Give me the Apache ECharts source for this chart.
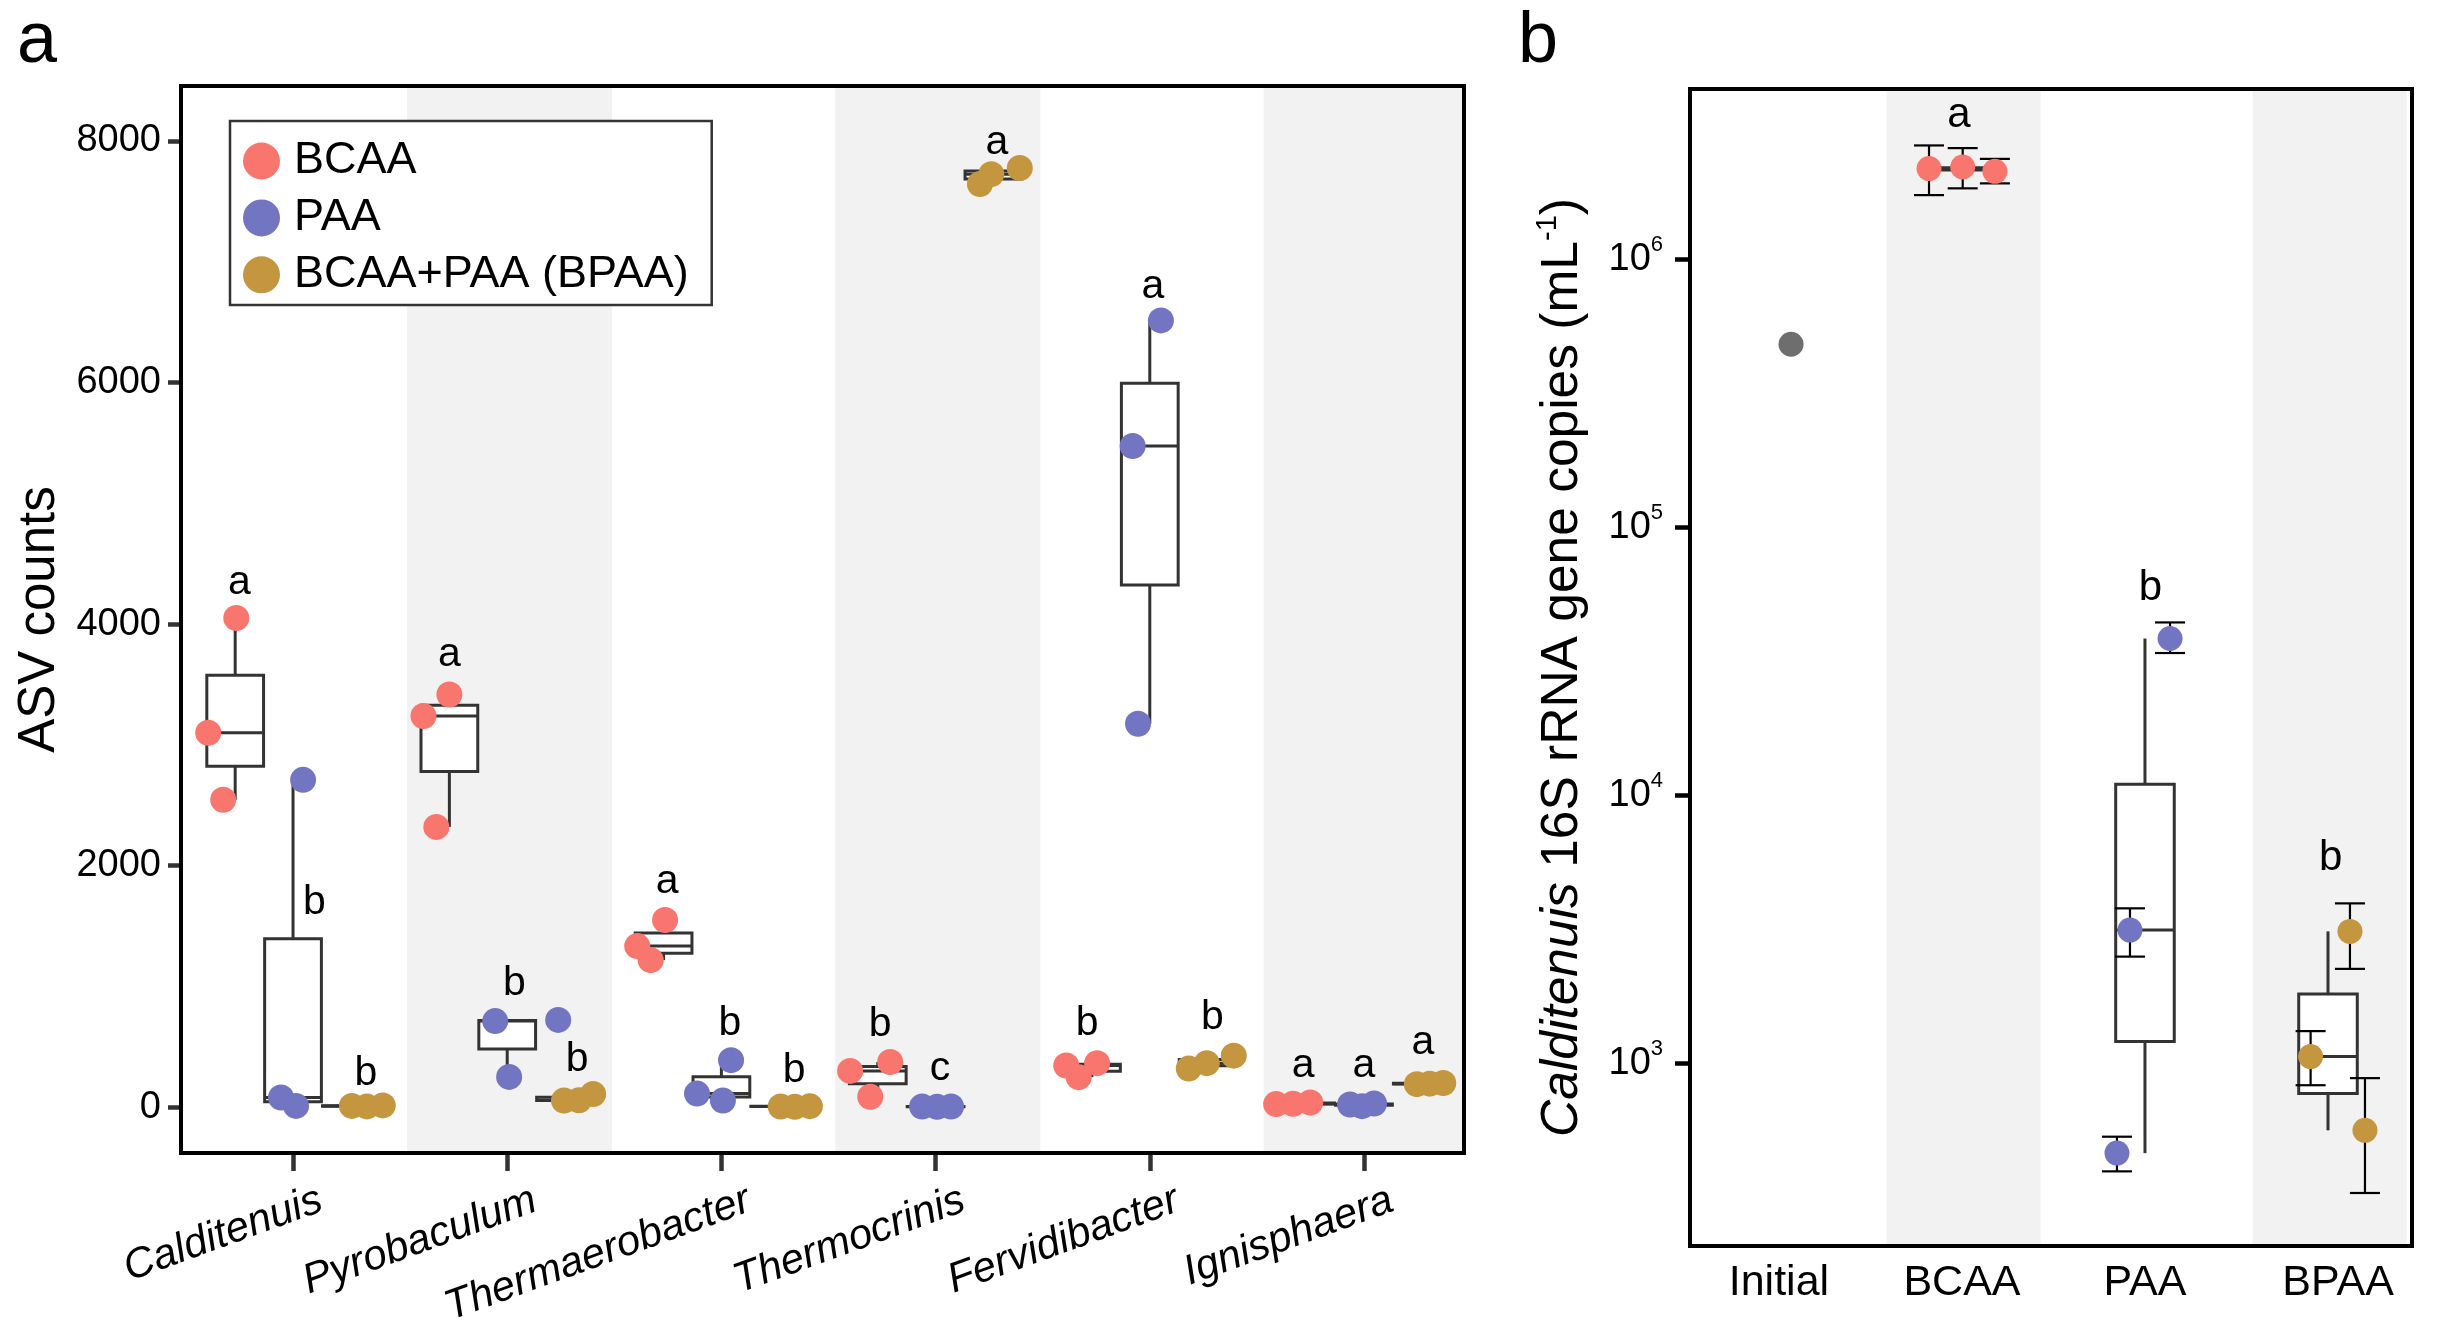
<!DOCTYPE html>
<html><head><meta charset="utf-8">
<script src="https://cdn.jsdelivr.net/npm/echarts@6/dist/echarts.min.js"></script>
<style>html,body{margin:0;padding:0;background:#fff}#c{width:2447px;height:1330px}</style>
</head><body><div id="c"></div>
<script>
// ---------------- Panel a data ----------------
const genera = ['Calditenuis','Pyrobaculum','Thermaerobacter','Thermocrinis','Fervidibacter','Ignisphaera'];
const treatments = ['BCAA','PAA','BCAA+PAA (BPAA)'];
// ASV counts (three replicates per genus)
const bcaaCounts = [[4050,3100,2545],[3416,3238,2320],[1549,1333,1217],[300,373,86],[344,364,248],[25,28,38]];
const paaCounts  = [[2710,80,10],[712,722,250],[389,112,54],[4,2,5],[6514,5474,3174],[22,8,30]];
const bpaaCounts = [[10,6,14],[54,56,108],[5,3,8],[7643,7725,7776],[320,364,426],[190,194,200]];
// horizontal jitter of each replicate (in genus-slot units)
const bcaaJitter = [[0.005,-0.126,-0.056],[0,-0.121,-0.061],[0.007,-0.123,-0.06],[-0.129,0.058,-0.035],[-0.12,0.024,-0.062],[-0.14,-0.061,0.019]];
const paaJitter  = [[0.047,-0.056,0.014],[-0.056,0.238,0.009],[0.045,-0.114,0.007],[-0.063,0.007,0.072],[0.052,-0.08,-0.055],[-0.065,-0.009,0.047]];
const bpaaJitter = [[0.005,0.075,0.149],[-0.005,0.065,0.131],[0.007,0.073,0.143],[-0.063,-0.01,0.123],[-0.088,-0.004,0.122],[-0.023,0.037,0.1]];
// significance letters [genus][treatment]
const lettersA = [['a','b','b'],['a','b','b'],['a','b','b'],['b','c','a'],['b','a','b'],['a','a','a']];
const letterYA = [[4340,1690,280],[3743,1019,390],[1863,687,300],[679,320,7983],[687,6790,739],[340,340,534]];
const letterDxA = [[0.02,0.1,0.07],[0,0.033,0.056],[0.017,0.04,0.07],[0.011,0.02,0.016],[-0.022,0.015,0.022],[-0.014,0,0.005]];
const yTicksA = [0,2000,4000,6000,8000];
const shadedGenera = [2,4,6];

// ---------------- Panel b data ----------------
const conditions = ['Initial','BCAA','PAA','BPAA'];
const initialCopies = [4.82e5];
const initialJitter = [0.066];
const bcaaCopies = [2.18e6,2.21e6,2.13e6];
const bcaaLow    = [1.736e6,1.84e6,1.92e6];
const bcaaHigh   = [2.66e6,2.6e6,2.37e6];
const bcaaJitterB = [-0.18,0.004,0.18];
const paaCopies = [38450,3140,462];
const paaLow    = [33950,2500,395];
const paaHigh   = [44150,3785,532];
const paaJitterB = [0.137,-0.082,-0.153];
const bpaaCopies = [3105,1059,562];
const bpaaLow    = [2250,828,328];
const bpaaHigh   = [3950,1318,880];
const bpaaJitterB = [0.12,-0.095,0.202];
const lettersB = ['', 'a', 'b', 'b'];
const letterYB = [null, 3.43e6, 59300, 5800];
const letterDxB = [0, -0.016, 0.03, 0.014];
const yTicksB = [1e3, 1e4, 1e5, 1e6];
const shadedConditions = [2,4];

// ---------------- helpers ----------------
const FONT = 'Liberation Sans, Arial, Helvetica, sans-serif';
const colA = ['#F8766D','#7275C1','#C4963F'];
const colB = ['#6E6E6E','#F8766D','#7275C1','#C4963F'];
const dodge = [-0.27, 0, 0.27];
const xMinA = 0.477, xMaxA = 6.467, xMinB = 0.514, xMaxB = 4.459;

function q7(s, p){ const h=(s.length-1)*p, l=Math.floor(h), u=Math.min(l+1,s.length-1); return s[l]+(h-l)*(s[u]-s[l]); }
function boxStats(vals){
  const s=[...vals].sort((a,b)=>a-b);
  const q1=q7(s,.25), med=q7(s,.5), q3=q7(s,.75), iqr=q3-q1;
  const lo=s.find(v=>v>=q1-1.5*iqr), hi=[...s].reverse().find(v=>v<=q3+1.5*iqr);
  return [lo,q1,med,q3,hi];
}
function boxStatsLog(vals){ return boxStats(vals.map(Math.log10)).map(v=>Math.pow(10,v)); }

function boxRender(width, lw, color){
  return function(params, api){
    const x=api.value(0);
    const pLo=api.coord([x,api.value(1)]), pQ1=api.coord([x,api.value(2)]), pMed=api.coord([x,api.value(3)]),
          pQ3=api.coord([x,api.value(4)]), pHi=api.coord([x,api.value(5)]);
    const half=api.size([width,0])[0]/2;
    const st={stroke:color,lineWidth:lw,fill:null};
    return {type:'group',children:[
      {type:'line',shape:{x1:pLo[0],y1:pLo[1],x2:pQ1[0],y2:pQ1[1]},style:st},
      {type:'line',shape:{x1:pQ3[0],y1:pQ3[1],x2:pHi[0],y2:pHi[1]},style:st},
      {type:'rect',shape:{x:pQ1[0]-half,y:pQ3[1],width:half*2,height:pQ1[1]-pQ3[1]},style:{stroke:color,lineWidth:lw,fill:'#fff'}},
      {type:'line',shape:{x1:pMed[0]-half,y1:pMed[1],x2:pMed[0]+half,y2:pMed[1]},style:st}
    ]};
  };
}
function errRender(capWidth){
  return function(params, api){
    const x=api.value(0);
    const pLo=api.coord([x,api.value(1)]), pHi=api.coord([x,api.value(2)]);
    const half=api.size([capWidth,0])[0]/2;
    const st={stroke:'#000',lineWidth:2.2};
    return {type:'group',children:[
      {type:'line',shape:{x1:pLo[0],y1:pLo[1],x2:pHi[0],y2:pHi[1]},style:st},
      {type:'line',shape:{x1:pLo[0]-half,y1:pLo[1],x2:pLo[0]+half,y2:pLo[1]},style:st},
      {type:'line',shape:{x1:pHi[0]-half,y1:pHi[1],x2:pHi[0]+half,y2:pHi[1]},style:st}
    ]};
  };
}
function letterRender(texts, size){
  return function(params, api){
    const p=api.coord([api.value(0),api.value(1)]);
    return {type:'text',x:p[0],y:p[1],style:{text:texts[params.dataIndex],fontSize:size,fontFamily:FONT,fill:'#000',align:'center',verticalAlign:'middle'}};
  };
}

// ---------------- build panel a ----------------
const countsA=[bcaaCounts,paaCounts,bpaaCounts], jitterA=[bcaaJitter,paaJitter,bpaaJitter];
const boxDataA=[];
countsA.forEach((arr,t)=>arr.forEach((vals,g)=>boxDataA.push([g+1+dodge[t],...boxStats(vals)])));
const letterDataA=[], letterTextA=[];
lettersA.forEach((row,g)=>row.forEach((L,t)=>{letterDataA.push([g+1+dodge[t]+letterDxA[g][t],letterYA[g][t]]);letterTextA.push(L);}));
const bandsA=shadedGenera.map(g=>[{xAxis:g-0.468},{xAxis:Math.min(g+0.489,xMaxA)}]);

const pointSeriesA=treatments.map((name,t)=>({
  type:'scatter',name,xAxisIndex:0,yAxisIndex:0,symbolSize:26,z:4,
  itemStyle:{color:colA[t],opacity:1},emphasis:{disabled:true},
  data:countsA[t].flatMap((vals,g)=>vals.map((v,r)=>[g+1+dodge[t]+jitterA[t][g][r],v])),
  markArea: t===0 ? {silent:true,itemStyle:{color:'#F2F2F2'},data:bandsA} : undefined
}));

// ---------------- build panel b ----------------
const copiesB=[initialCopies,bcaaCopies,paaCopies,bpaaCopies];
const jitterB=[initialJitter,bcaaJitterB,paaJitterB,bpaaJitterB];
const lowB=[null,bcaaLow,paaLow,bpaaLow], highB=[null,bcaaHigh,paaHigh,bpaaHigh];
const boxDataB=[];
for(let c=1;c<4;c++) boxDataB.push([c+1,...boxStatsLog(copiesB[c])]);
const errDataB=[];
for(let c=1;c<4;c++) copiesB[c].forEach((v,r)=>errDataB.push([c+1+jitterB[c][r],lowB[c][r],highB[c][r]]));
const letterDataB=[], letterTextB=[];
lettersB.forEach((L,c)=>{ if(L){ letterDataB.push([c+1+letterDxB[c],letterYB[c]]); letterTextB.push(L);} });
const bandsB=shadedConditions.map(c=>[{xAxis:c-0.412},{xAxis:Math.min(c+0.43,xMaxB)}]);
const pointSeriesB=conditions.map((name,c)=>({
  type:'scatter',name:'b-'+name,xAxisIndex:1,yAxisIndex:1,symbolSize:25,z:5,
  itemStyle:{color:colB[c],opacity:1},emphasis:{disabled:true},
  data:copiesB[c].map((v,r)=>[c+1+jitterB[c][r],v]),
  markArea: c===0 ? {silent:true,itemStyle:{color:'#F2F2F2'},data:bandsB} : undefined
}));

const labelOffA=0.13;
const option={
  animation:false,
  backgroundColor:'#fff',
  textStyle:{fontFamily:FONT},
  title:[
    {text:'a',left:17,top:6,padding:0,textStyle:{fontSize:72,fontWeight:'normal',color:'#000',fontFamily:FONT,lineHeight:72}},
    {text:'b',left:1518,top:6,padding:0,textStyle:{fontSize:72,fontWeight:'normal',color:'#000',fontFamily:FONT,lineHeight:72}}
  ],
  legend:{
    data:treatments,orient:'vertical',left:230,top:121,icon:'circle',
    itemWidth:37,itemHeight:37,itemGap:11.9,padding:[17.5,23,7.8,13],
    borderColor:'#333',borderWidth:2.5,backgroundColor:'#fff',borderRadius:0,
    textStyle:{fontSize:45,color:'#000',fontFamily:FONT,lineHeight:37,padding:[0,0,0,9]},
    selectedMode:false
  },
  grid:[
    {left:181,top:86,width:1283,height:1067,show:true,borderColor:'#000',borderWidth:4,backgroundColor:'transparent',z:10,containLabel:false,outerBoundsMode:'none'},
    {left:1690,top:89,width:722,height:1157,show:true,borderColor:'#000',borderWidth:4,backgroundColor:'transparent',z:10,containLabel:false,outerBoundsMode:'none'}
  ],
  xAxis:[
    {gridIndex:0,type:'value',min:xMinA,max:xMaxA,axisLine:{show:false,onZero:false},splitLine:{show:false},
     axisTick:{show:true,customValues:genera.map((_,i)=>i+1),length:18,lineStyle:{color:'#333',width:4.5}},
     axisLabel:{customValues:genera.map((_,i)=>i+1+labelOffA),formatter:v=>genera[Math.round(v-labelOffA)-1],
       rotate:20,fontSize:42,fontStyle:'italic',color:'#000',margin:46,fontFamily:FONT}},
    {gridIndex:1,type:'value',min:xMinB,max:xMaxB,axisLine:{show:false,onZero:false},splitLine:{show:false},axisTick:{show:false},
     axisLabel:{customValues:[1,2,3,4.055],formatter:v=>conditions[Math.round(v)-1],fontSize:43,color:'#000',margin:16,fontFamily:FONT}}
  ],
  yAxis:[
    {gridIndex:0,type:'value',min:-380,max:8455,axisLine:{show:false,onZero:false},splitLine:{show:false},
     axisTick:{show:true,customValues:yTicksA,length:13,lineStyle:{color:'#333',width:4.5}},
     axisLabel:{customValues:yTicksA,formatter:v=>String(v),fontSize:38,color:'#000',margin:20,fontFamily:FONT},
     name:'ASV counts',nameLocation:'middle',nameGap:112,nameTextStyle:{fontSize:51,color:'#000',fontFamily:FONT}},
    {gridIndex:1,type:'log',logBase:10,min:208,max:4.32e6,axisLine:{show:false,onZero:false},splitLine:{show:false},minorTick:{show:false},
     axisTick:{show:true,customValues:yTicksB,length:15,lineStyle:{color:'#000',width:4.5}},
     axisLabel:{customValues:yTicksB,margin:27,formatter:v=>'{base|10}{sup|'+Math.round(Math.log10(v))+'}',
       rich:{base:{fontSize:38,lineHeight:50,fontFamily:FONT,color:'#000'},sup:{fontSize:22,lineHeight:22,verticalAlign:'top',fontFamily:FONT,color:'#000'}}},
     name:'{it|Calditenuis} 16S rRNA gene copies (mL{sup|-1})',nameLocation:'middle',nameGap:97,
     nameTextStyle:{fontSize:51.5,color:'#000',fontFamily:FONT,lineHeight:60,
       rich:{it:{fontStyle:'italic',fontSize:51.5,lineHeight:60,fontFamily:FONT,color:'#000'},sup:{fontSize:29,lineHeight:29,verticalAlign:'top',fontFamily:FONT,color:'#000'}}}}
  ],
  series:[
    {type:'custom',name:'boxA',xAxisIndex:0,yAxisIndex:0,z:3,renderItem:boxRender(0.265,3,'#333'),encode:{x:0,y:[1,2,3,4,5]},data:boxDataA,silent:true},
    ...pointSeriesA,
    {type:'custom',name:'lettersA',xAxisIndex:0,yAxisIndex:0,z:6,renderItem:letterRender(letterTextA,41),encode:{x:0,y:1},data:letterDataA,silent:true},
    {type:'custom',name:'boxB',xAxisIndex:1,yAxisIndex:1,z:3,renderItem:boxRender(0.32,3,'#333'),encode:{x:0,y:[1,2,3,4,5]},data:boxDataB,silent:true},
    {type:'custom',name:'errB',xAxisIndex:1,yAxisIndex:1,z:4,renderItem:errRender(0.164),encode:{x:0,y:[1,2]},data:errDataB,silent:true},
    ...pointSeriesB,
    {type:'custom',name:'lettersB',xAxisIndex:1,yAxisIndex:1,z:6,renderItem:letterRender(letterTextB,42),encode:{x:0,y:1},data:letterDataB,silent:true}
  ]
};
const chart=echarts.init(document.getElementById('c'),null,{renderer:'canvas'});
chart.setOption(option);
</script>
</body></html>
